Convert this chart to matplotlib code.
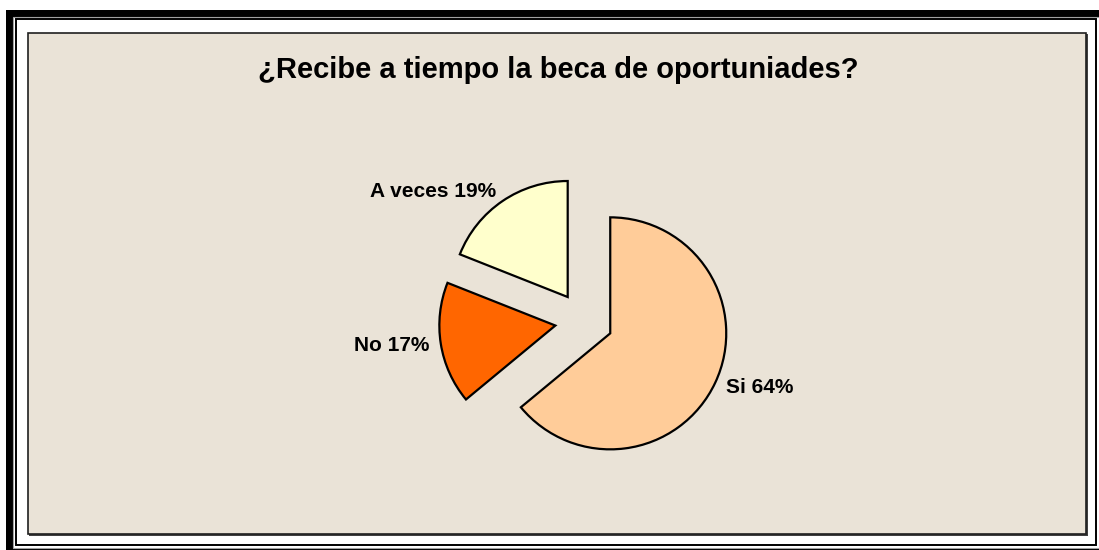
import matplotlib.pyplot as plt
from matplotlib.patches import Rectangle

plt.rcParams['font.family'] = ['Liberation Sans', 'DejaVu Sans']

# Data
categories = ['Si', 'No', 'A veces']
values = [64, 17, 19]
colors = ['#FFCC99', '#FF6600', '#FFFFCC']
title = '¿Recibe a tiempo la beca de oportuniades?'

W, H = 1099, 550
fig = plt.figure(figsize=(W / 100, H / 100), dpi=100)
fig.patch.set_facecolor('white')
ax = fig.add_axes([0, 0, 1, 1])
ax.set_xlim(0, W)
ax.set_ylim(0, H)
ax.axis('off')


def rect(x0, y0, x1, y1, **kw):
    # pixel coords with y measured from the top
    ax.add_patch(Rectangle((x0, H - y1), x1 - x0, y1 - y0, **kw))


# Outer frame
rect(6, 10, 1120, 570, facecolor='black', edgecolor='none')
rect(13, 16.5, 1120, 548, facecolor='white', edgecolor='#A0A0A0', lw=0.8)
rect(16, 19, 1096, 545, facecolor='white', edgecolor='black', lw=1.4)

# Plot area (with a little shadow on right/bottom)
rect(29, 34, 1087.5, 535.5, facecolor='#404040', edgecolor='none')
rect(28, 33, 1086, 534, facecolor='#EAE3D7', edgecolor='#202020', lw=1.2)

ax.text(558, H - 70, title, ha='center', va='center',
        fontsize=21, fontweight='bold', color='black')

radius = 116
labels = [f'{c} {v}%' for c, v in zip(categories, values)]
wedges, texts = ax.pie(values, colors=colors, labels=labels,
                       startangle=90, counterclock=False,
                       explode=[0.25 * radius] * 3,
                       center=(584, H - 321), radius=radius,
                       labeldistance=1.10, frame=True,
                       wedgeprops=dict(edgecolor='black', linewidth=1.6),
                       textprops=dict(fontsize=15, fontweight='bold', color='black'))
# labels sit outside the slice: align away from the slice centre
for w, t in zip(wedges, texts):
    t.set_va('center')
    t.set_ha('right' if t.get_position()[0] < w.center[0] else 'left')

ax.set_xlim(0, W)
ax.set_ylim(0, H)
ax.set_aspect('equal')
ax.axis('off')

fig.savefig('out.png', dpi=100)
